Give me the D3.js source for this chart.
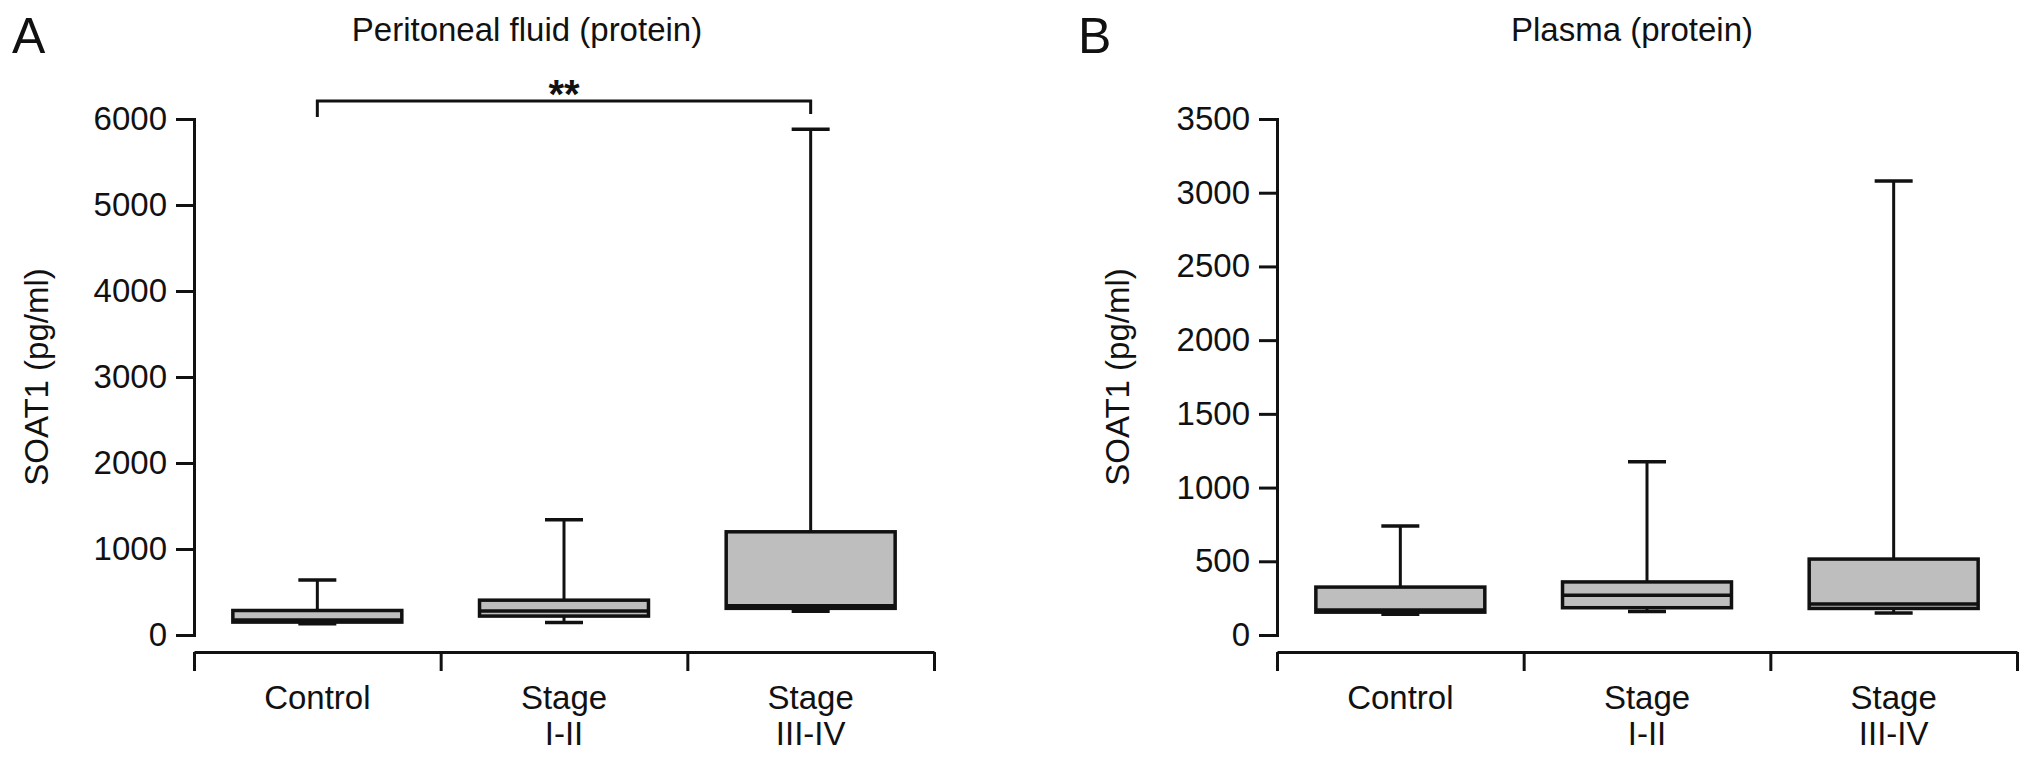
<!DOCTYPE html>
<html>
<head>
<meta charset="utf-8">
<script src="https://cdn.jsdelivr.net/npm/d3@7"></script>
<style>
  body { margin: 0; background: #fff; }
  svg text { font-family: "Liberation Sans", Arial, Helvetica, sans-serif; fill: #111; }
</style>
</head>
<body>
<div id="chart"></div>
<script>
// categories and box values (pg/ml)
const categories = ["Control", "Stage|I-II", "Stage|III-IV"];

const pfMin    = [130, 145, 275];
const pfQ1     = [150, 220, 310];
const pfMedian = [175, 280, 340];
const pfQ3     = [285, 405, 1200];
const pfMax    = [640, 1340, 5880];
const pfTicks  = [0, 1000, 2000, 3000, 4000, 5000, 6000];

const plMin    = [140, 160, 150];
const plQ1     = [155, 185, 180];
const plMedian = [170, 270, 210];
const plQ3     = [325, 360, 515];
const plMax    = [740, 1175, 3080];
const plTicks  = [0, 500, 1000, 1500, 2000, 2500, 3000, 3500];

const W = 2032, H = 759;
const svg = d3.select("#chart").append("svg")
    .attr("width", W)
    .attr("height", H);

const ink = "#111";

function drawPanel(opt) {
    const g = svg.append("g");

    // y scale
    const y = d3.scaleLinear()
        .domain([0, d3.max(opt.ticks)])
        .range([635, 119]);

    // x band for categories
    const x = d3.scaleBand()
        .domain(categories)
        .range([opt.x0, opt.x1]);

    // y axis
    const yAxis = g.append("g")
        .attr("transform", `translate(${opt.x0},0)`)
        .call(d3.axisLeft(y).tickValues(opt.ticks).tickFormat(d3.format("d"))
            .tickSize(18).tickPadding(9));
    yAxis.selectAll("path, line").attr("stroke", ink).attr("stroke-width", 3);
    yAxis.selectAll("text").attr("font-size", 33).attr("fill", ink)
        .attr("font-family", "Liberation Sans, Arial, sans-serif");

    // x axis with ticks at band edges
    const xEdge = d3.scaleLinear().domain([0, categories.length]).range([opt.x0, opt.x1]);
    const xAxis = g.append("g")
        .attr("transform", "translate(0,652)")
        .call(d3.axisBottom(xEdge).tickValues(d3.range(categories.length + 1))
            .tickFormat("").tickSizeInner(19).tickSizeOuter(0));
    xAxis.selectAll("path, line").attr("stroke", ink).attr("stroke-width", 3);

    // category labels
    const lab = g.selectAll(".cat")
        .data(categories)
        .join("text")
        .attr("class", "cat")
        .attr("text-anchor", "middle")
        .attr("font-size", 33)
        .attr("x", d => x(d) + x.bandwidth() / 2)
        .attr("y", 709);
    lab.selectAll("tspan")
        .data(d => d.split("|"))
        .join("tspan")
        .attr("x", function () { return this.parentNode.getAttribute("x"); })
        .attr("dy", (d, i) => i === 0 ? 0 : 36)
        .text(d => d);

    // boxes
    const rows = categories.map((c, i) => ({
        cat: c, min: opt.min[i], q1: opt.q1[i], med: opt.med[i], q3: opt.q3[i], max: opt.max[i]
    }));
    const bw = x.bandwidth() * 0.685;
    const cap = 38;
    const cx = d => x(d.cat) + x.bandwidth() / 2;

    const box = g.selectAll(".box").data(rows).join("g").attr("class", "box");
    box.append("line")
        .attr("x1", cx).attr("x2", cx)
        .attr("y1", d => y(d.min)).attr("y2", d => y(d.max))
        .attr("stroke", ink).attr("stroke-width", 3);
    box.append("line")
        .attr("x1", d => cx(d) - cap / 2).attr("x2", d => cx(d) + cap / 2)
        .attr("y1", d => y(d.max)).attr("y2", d => y(d.max))
        .attr("stroke", ink).attr("stroke-width", 3.5);
    box.append("line")
        .attr("x1", d => cx(d) - cap / 2).attr("x2", d => cx(d) + cap / 2)
        .attr("y1", d => y(d.min)).attr("y2", d => y(d.min))
        .attr("stroke", ink).attr("stroke-width", 3.5);
    box.append("rect")
        .attr("x", d => cx(d) - bw / 2)
        .attr("width", bw)
        .attr("y", d => y(d.q3))
        .attr("height", d => y(d.q1) - y(d.q3))
        .attr("fill", "#bebebe")
        .attr("stroke", ink).attr("stroke-width", 3.5);
    box.append("line")
        .attr("x1", d => cx(d) - bw / 2).attr("x2", d => cx(d) + bw / 2)
        .attr("y1", d => y(d.med)).attr("y2", d => y(d.med))
        .attr("stroke", ink).attr("stroke-width", 3.5);

    // y axis title
    g.append("text")
        .attr("transform", `translate(${opt.ylabX},${(y(0) + y(d3.max(opt.ticks))) / 2}) rotate(-90)`)
        .attr("text-anchor", "middle")
        .attr("font-size", 33)
        .text("SOAT1 (pg/ml)");

    // panel title and letter
    g.append("text")
        .attr("x", opt.titleX).attr("y", 41)
        .attr("text-anchor", "middle")
        .attr("font-size", 33)
        .text(opt.title);
    g.append("text")
        .attr("x", opt.letterX).attr("y", 53)
        .attr("font-size", 50)
        .text(opt.letter);

    return { x, y, g };
}

const pA = drawPanel({
    x0: 194, x1: 934, ticks: pfTicks,
    min: pfMin, q1: pfQ1, med: pfMedian, q3: pfQ3, max: pfMax,
    ylabX: 48, title: "Peritoneal fluid (protein)", titleX: 527, letter: "A", letterX: 12
});

drawPanel({
    x0: 1277, x1: 2017, ticks: plTicks,
    min: plMin, q1: plQ1, med: plMedian, q3: plQ3, max: plMax,
    ylabX: 1129, title: "Plasma (protein)", titleX: 1632, letter: "B", letterX: 1078
});

// significance bracket Control vs Stage III-IV
const bx1 = pA.x(categories[0]) + pA.x.bandwidth() / 2;
const bx2 = pA.x(categories[2]) + pA.x.bandwidth() / 2;
pA.g.append("path")
    .attr("d", `M${bx1},117 V101 H${bx2} V114`)
    .attr("fill", "none")
    .attr("stroke", ink)
    .attr("stroke-width", 3);
pA.g.append("text")
    .attr("x", (bx1 + bx2) / 2)
    .attr("y", 108)
    .attr("text-anchor", "middle")
    .attr("font-size", 40)
    .attr("font-weight", "bold")
    .text("**");
</script>
</body>
</html>
